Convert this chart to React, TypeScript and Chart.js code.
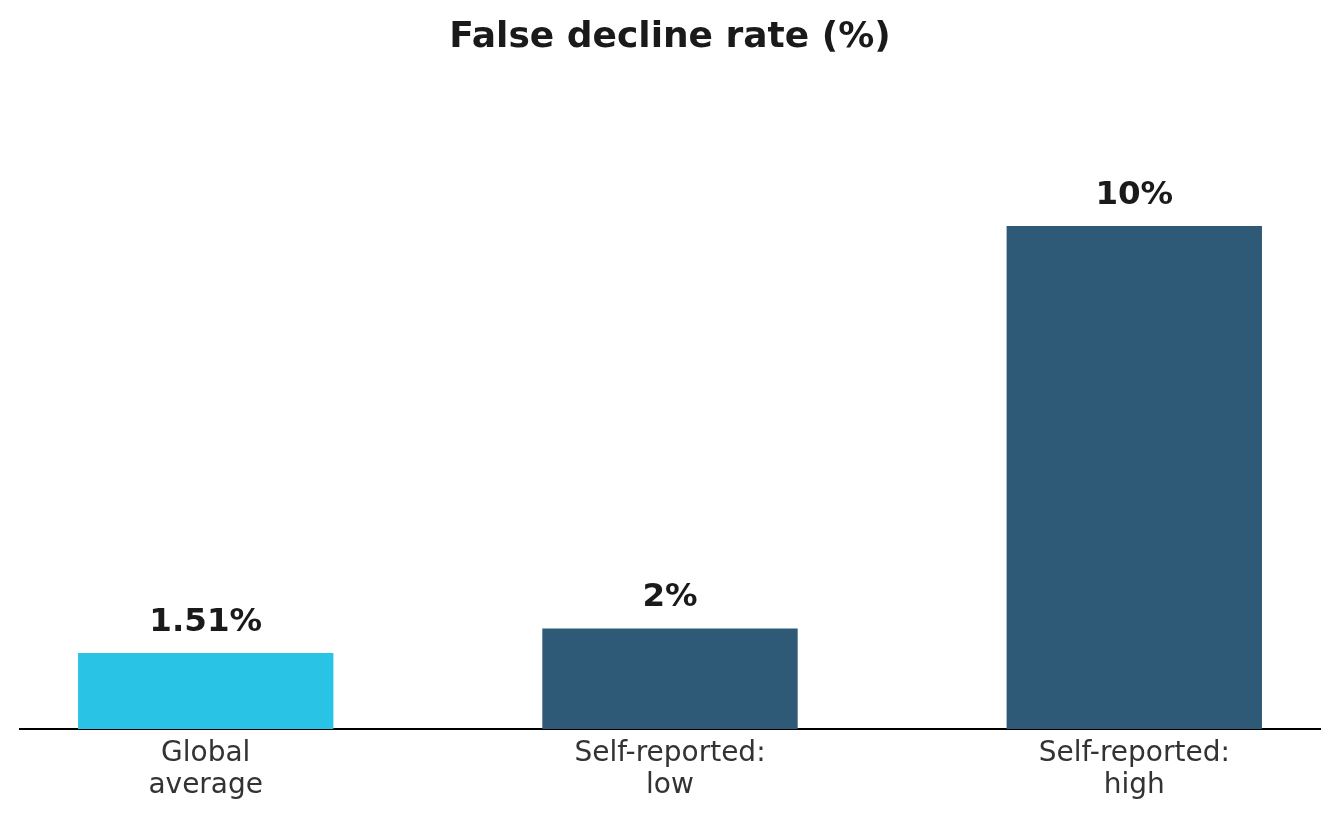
import React, { useEffect, useRef } from "react";
import { Chart, registerables } from "chart.js";

Chart.register(...registerables);

const categories: string[][] = [
  ["Global", "average"],
  ["Self-reported:", "low"],
  ["Self-reported:", "high"],
];
const values: number[] = [1.51, 2, 10];
const barColors: string[] = ["#29C4E5", "#2E5A78", "#2E5A78"];
const valueLabels: string[] = ["1.51%", "2%", "10%"];

const FONT = "'DejaVu Sans', 'Liberation Sans', sans-serif";

const valueLabelPlugin = {
  id: "valueLabels",
  afterDatasetsDraw(chart: any) {
    const ctx = chart.ctx;
    const meta = chart.getDatasetMeta(0);
    ctx.save();
    ctx.font = `bold 32.5px ${FONT}`;
    ctx.fillStyle = "#1a1a1a";
    ctx.textAlign = "center";
    ctx.textBaseline = "alphabetic";
    meta.data.forEach((bar: any, i: number) => {
      ctx.fillText(valueLabels[i], bar.x, bar.y - 22);
    });
    ctx.restore();
  },
};

export default function App() {
  const ref = useRef<HTMLCanvasElement | null>(null);

  useEffect(() => {
    if (!ref.current) return;
    const chart = new Chart(ref.current, {
      type: "bar",
      data: {
        datasets: [
          {
            data: values.map((v, i) => ({ x: i, y: v })),
            backgroundColor: barColors,
            borderWidth: 0,
            categoryPercentage: 1,
            barPercentage: 0.55,
          },
        ],
      },
      options: {
        animation: false,
        responsive: false,
        layout: { padding: { left: 20, right: 20, top: 0, bottom: 0 } },
        plugins: {
          legend: { display: false },
          tooltip: { enabled: false },
          title: {
            display: true,
            text: "False decline rate (%)",
            color: "#1a1a1a",
            font: { family: FONT, size: 36, weight: "bold", lineHeight: 1.2 },
            padding: { top: 16, bottom: 16 },
          },
        },
        scales: {
          x: {
            type: "linear",
            min: -0.4,
            max: 2.4,
            offset: false,
            grid: { display: false, drawTicks: false, offset: false },
            border: { display: true, color: "#000000", width: 2 },
            afterBuildTicks: (scale: any) => {
              scale.ticks = categories.map((_, i) => ({ value: i }));
            },
            afterFit: (scale: any) => {
              scale.height = 90;
            },
            ticks: {
              autoSkip: false,
              maxRotation: 0,
              minRotation: 0,
              padding: 9,
              color: "#333333",
              font: { family: FONT, size: 28, lineHeight: 1.13 },
              callback: (v: any) => categories[Math.round(Number(v))] ?? "",
            },
          },
          y: {
            display: false,
            min: 0,
            max: 13,
          },
        },
      },
      plugins: [valueLabelPlugin],
    } as any);
    return () => chart.destroy();
  }, []);

  return (
    <div style={{ position: "absolute", left: 0, top: 0, width: 1340, height: 819, background: "#ffffff" }}>
      <canvas ref={ref} width={1340} height={819} />
    </div>
  );
}
